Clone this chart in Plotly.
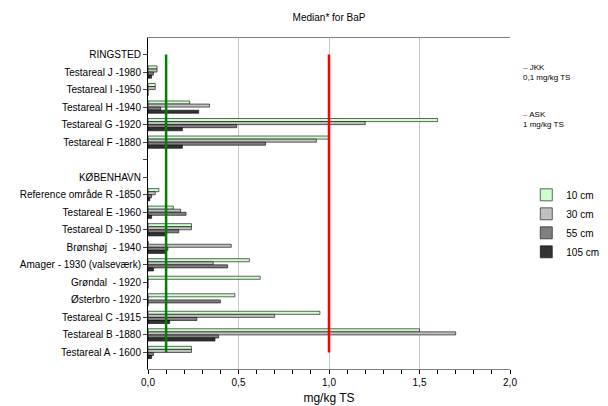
import plotly.graph_objects as go

# Kategorier fra top til bund
categories = [
    "RINGSTED", "Testareal J -1980", "Testareal I -1950", "Testareal H -1940",
    "Testareal G -1920", "Testareal F -1880", " ", "KØBENHAVN",
    "Reference område R -1850", "Testareal E -1960", "Testareal D -1950",
    "Brønshøj  - 1940", "Amager - 1930 (valseværk)", "Grøndal  - 1920",
    "Østerbro - 1920", "Testareal C -1915", "Testareal B -1880",
    "Testareal A - 1600",
]

cm10 = [None, 0.05, 0.04, 0.23, 1.60, 1.00, None, None, 0.06, 0.14, 0.24, 0.00, 0.56, 0.62, 0.48, 0.95, 1.50, 0.24]
cm30 = [None, 0.05, 0.04, 0.34, 1.20, 0.93, None, None, 0.04, 0.18, 0.24, 0.46, 0.36, 0.00, 0.00, 0.70, 1.70, 0.24]
cm55 = [None, 0.03, 0.00, 0.07, 0.49, 0.65, None, None, 0.02, 0.21, 0.17, 0.11, 0.44, 0.00, 0.40, 0.27, 0.39, 0.03]
cm105 = [None, 0.02, 0.00, 0.28, 0.19, 0.19, None, None, 0.01, 0.02, 0.10, 0.10, 0.03, 0.00, 0.00, 0.12, 0.37, 0.02]

series = [("10 cm", cm10, "#ccffcc"), ("30 cm", cm30, "#c0c0c0"),
          ("55 cm", cm55, "#808080"), ("105 cm", cm105, "#333333")]

jkk = 0.1
ask = 1.0

fig = go.Figure()
for name, vals, col in series:
    fig.add_trace(go.Bar(y=categories, x=vals, name=name, orientation="h",
                         marker=dict(color=col, line=dict(color="#000000", width=0.6))))

for val, col in [(jkk, "#008000"), (ask, "#ff0000")]:
    fig.add_trace(go.Scatter(x=[val, val], y=["RINGSTED", "Testareal A - 1600"],
                             mode="lines", line=dict(color=col, width=2.5),
                             showlegend=False, hoverinfo="skip"))

fig.update_layout(
    width=608, height=406,
    margin=dict(l=131, r=75, t=30, b=38),
    paper_bgcolor="white", plot_bgcolor="white",
    font=dict(family="Liberation Sans, Arial", size=10, color="#000000"),
    title=dict(text="Median* for BaP", x=0.5, xref="paper", y=0.985, font=dict(size=10)),
    barmode="group", bargap=0.3, bargroupgap=0,
    legend=dict(x=1.045, y=0.57, xanchor="left", yanchor="top",
                font=dict(size=10), itemwidth=30, tracegroupgap=0),
    showlegend=True,
    separators=",.",
)
fig.update_xaxes(range=[0, 2.0], dtick=0.5, tickformat=".1f",
                 showgrid=True, gridcolor="#c8c8c8", gridwidth=1,
                 showline=True, linecolor="#808080", ticks="outside",
                 tickcolor="#000000", ticklen=4,
                 minor=dict(dtick=0.1, ticks="outside", ticklen=4, tickcolor="#000000"),
                 mirror=True, title=dict(text="mg/kg TS", standoff=6), zeroline=False,
                 tickfont=dict(size=10))
fig.update_yaxes(autorange="reversed", showline=True, linecolor="#000000",
                 ticks="outside", ticklen=4, mirror=False, showgrid=False,
                 tickfont=dict(size=10))

fig.add_annotation(x=1.03, y=0.93, xref="paper", yref="paper", xanchor="left", showarrow=False,
                   text="<span style='color:#008000'>–</span> JKK<br>0,1 mg/kg TS",
                   align="left", font=dict(size=8))
fig.add_annotation(x=1.03, y=0.79, xref="paper", yref="paper", xanchor="left", showarrow=False,
                   text="<span style='color:#ff0000'>–</span> ASK<br>1 mg/kg TS",
                   align="left", font=dict(size=8))

fig.write_html("out.html")
